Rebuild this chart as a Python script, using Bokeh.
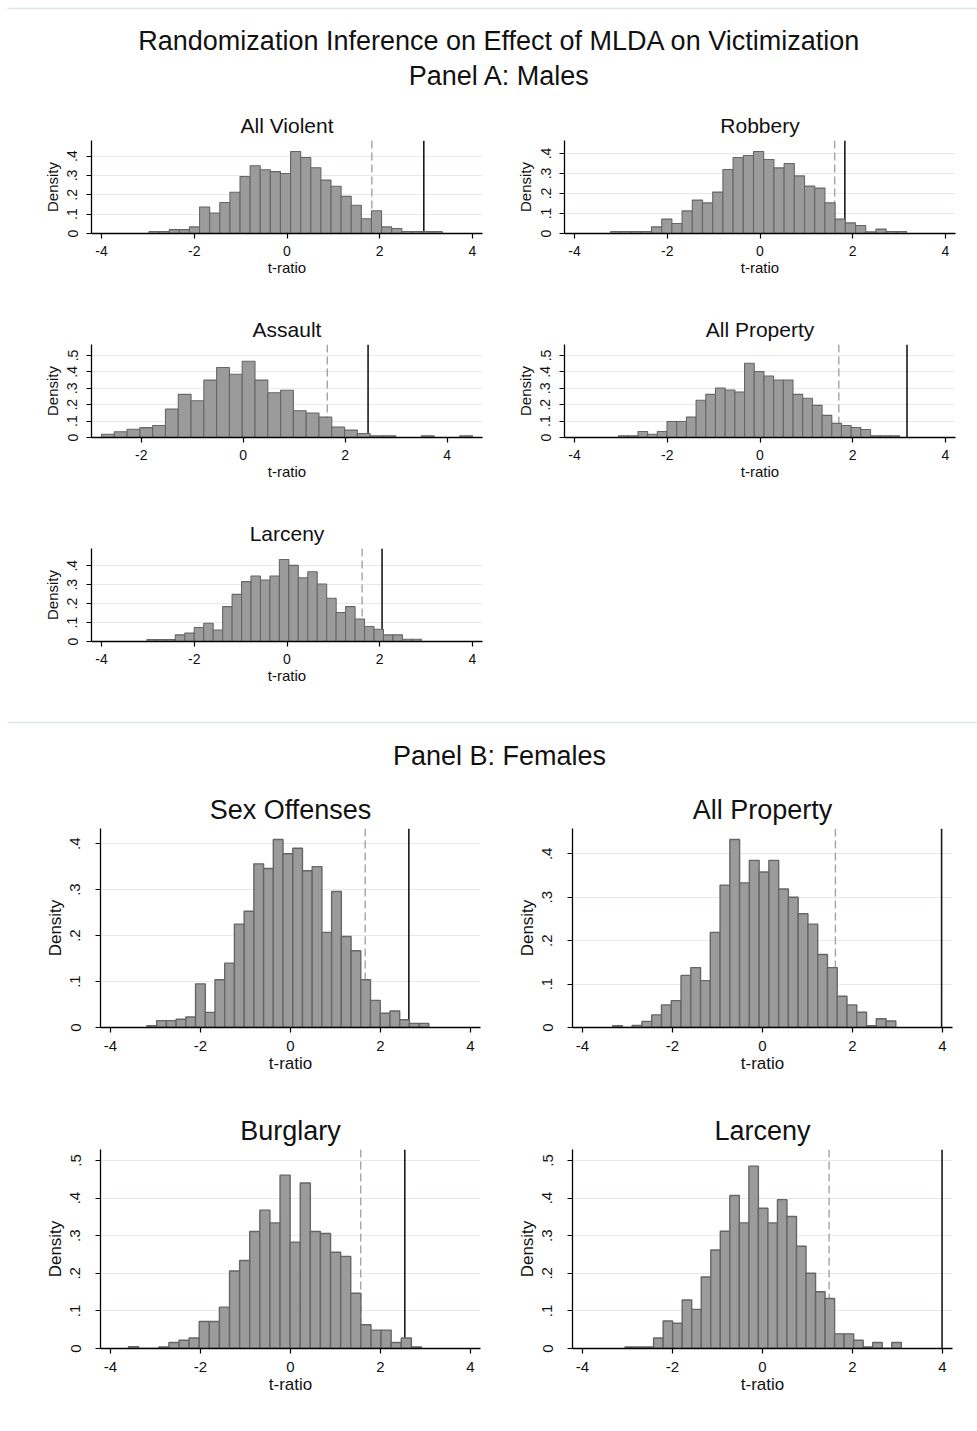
from bokeh.plotting import figure
from bokeh.layouts import column, row
from bokeh.models import FixedTicker, CustomJSTickFormatter, Span, Range1d, Spacer
from bokeh.core.properties import value
from bokeh.embed import file_html
from bokeh.resources import INLINE

FONT = "Liberation Sans"
INK = "#111111"

# ---------------------------------------------------------------------------
# Randomization distributions of the t-ratio: first bin edge, bin width and
# density of each bin, plus the 95th-percentile cutoff and the actual t-ratio.
# ---------------------------------------------------------------------------

# Panel A: males
violent_m_bin0, violent_m_binw = -2.975, 0.218
violent_m_density = [0.01, 0.01, 0.02, 0.02, 0.034, 0.137, 0.106, 0.16, 0.213, 0.295,
                     0.35, 0.33, 0.32, 0.31, 0.424, 0.393, 0.34, 0.276, 0.244, 0.192,
                     0.146, 0.076, 0.118, 0.034, 0.026, 0.01, 0.01, 0.01, 0.01]
violent_m_cutoff, violent_m_t = 1.83, 2.95

robbery_m_bin0, robbery_m_binw = -3.22, 0.22
robbery_m_density = [0.01, 0.01, 0.01, 0.01, 0.033, 0.072, 0.05, 0.113, 0.167, 0.153,
                     0.207, 0.32, 0.38, 0.39, 0.41, 0.37, 0.328, 0.35, 0.288, 0.237,
                     0.227, 0.153, 0.072, 0.053, 0.04, 0.008, 0.022, 0.01, 0.01]
robbery_m_cutoff, robbery_m_t = 1.61, 1.83

assault_m_bin0, assault_m_binw = -2.78, 0.251
assault_m_density = [0.02, 0.035, 0.05, 0.06, 0.073, 0.173, 0.263, 0.224, 0.35, 0.427,
                     0.386, 0.465, 0.35, 0.273, 0.288, 0.163, 0.149, 0.124, 0.063, 0.045,
                     0.024, 0.01, 0.01, 0.0, 0.0, 0.01, 0.0, 0.0, 0.01]
assault_m_cutoff, assault_m_t = 1.65, 2.45

property_m_bin0, property_m_binw = -3.05, 0.209
property_m_density = [0.01, 0.01, 0.037, 0.02, 0.037, 0.098, 0.098, 0.124, 0.227, 0.263,
                      0.302, 0.29, 0.277, 0.453, 0.402, 0.375, 0.351, 0.351, 0.263, 0.239,
                      0.196, 0.135, 0.086, 0.073, 0.061, 0.049, 0.01, 0.01, 0.01]
property_m_cutoff, property_m_t = 1.70, 3.17

larceny_m_bin0, larceny_m_binw = -3.02, 0.204
larceny_m_density = [0.01, 0.01, 0.01, 0.035, 0.044, 0.074, 0.096, 0.061, 0.184, 0.249,
                     0.316, 0.346, 0.325, 0.346, 0.433, 0.402, 0.337, 0.368, 0.304, 0.228,
                     0.153, 0.184, 0.119, 0.079, 0.065, 0.035, 0.035, 0.012, 0.012]
larceny_m_cutoff, larceny_m_t = 1.62, 2.05

# Panel B: females
sex_f_bin0, sex_f_binw = -3.19, 0.216
sex_f_density = [0.004, 0.015, 0.015, 0.018, 0.023, 0.095, 0.033, 0.104, 0.14, 0.225,
                 0.253, 0.356, 0.346, 0.409, 0.378, 0.39, 0.341, 0.35, 0.207, 0.296,
                 0.198, 0.167, 0.104, 0.059, 0.031, 0.036, 0.017, 0.009, 0.009]
sex_f_cutoff, sex_f_t = 1.66, 2.63

property_f_bin0, property_f_binw = -3.33, 0.217
property_f_density = [0.004, 0.0, 0.005, 0.014, 0.029, 0.052, 0.062, 0.12, 0.138, 0.108,
                      0.219, 0.328, 0.433, 0.333, 0.385, 0.358, 0.385, 0.319, 0.3, 0.262,
                      0.238, 0.168, 0.138, 0.072, 0.052, 0.035, 0.004, 0.02, 0.015]
property_f_cutoff, property_f_t = 1.62, 3.98

burglary_f_bin0, burglary_f_binw = -3.6, 0.2245
burglary_f_density = [0.005, 0.0, 0.0, 0.004, 0.016, 0.022, 0.028, 0.072, 0.072, 0.11,
                      0.206, 0.234, 0.311, 0.368, 0.334, 0.461, 0.283, 0.44, 0.311, 0.306,
                      0.256, 0.245, 0.147, 0.063, 0.049, 0.049, 0.016, 0.028, 0.004]
burglary_f_cutoff, burglary_f_t = 1.56, 2.54

larceny_f_bin0, larceny_f_binw = -3.055, 0.2117
larceny_f_density = [0.004, 0.004, 0.004, 0.028, 0.073, 0.067, 0.129, 0.104, 0.19, 0.262,
                     0.312, 0.407, 0.334, 0.485, 0.373, 0.334, 0.396, 0.351, 0.272, 0.2,
                     0.151, 0.133, 0.039, 0.039, 0.022, 0.004, 0.016, 0.0, 0.016]
larceny_f_cutoff, larceny_f_t = 1.48, 3.99

# axis labels
x_ticks_full = [-4, -2, 0, 2, 4]
x_ticks_assault = [-2, 0, 2, 4]

# ---------------------------------------------------------------------------
# styling / geometry
# ---------------------------------------------------------------------------
STYLE_A = dict(title=21, tick=14, label=15, tick_standoff=7, ytick_standoff=9,
               xlabel_standoff=0, ylabel_standoff=4, title_standoff=8, bar_lw=1.1)
STYLE_B = dict(title=27, tick=15, label=17, tick_standoff=8, ytick_standoff=15,
               xlabel_standoff=0, ylabel_standoff=3, title_standoff=8, bar_lw=1.4)

# (figure width, border left, border right, figure height, border top, border bottom)
GEO_A_LEFT = (488, 91, 6, 204, 40, 71)
GEO_A_RIGHT = (489, 76, 22, 204, 40, 71)
GEO_B_LEFT = (488, 100, 8, 321, 48, 74)
GEO_B_RIGHT = (489, 84, 25, 321, 48, 74)

y_fmt_code = "return tick === 0 ? '0' : tick.toFixed(1).replace(/^0/, '');"
x_fmt_code = "return String(Math.round(tick));"


def hist_panel(title, bin0, binw, dens, cutoff, tstat, xticks, ytop, geo, sty):
    W, bl, br, H, bt, bb = geo
    fw, fh = W - bl - br, H - bt - bb
    left = [bin0 + binw * i for i in range(len(dens))]
    right = [e + binw for e in left]
    lo = min(xticks[0], left[0], cutoff, tstat)
    hi = max(xticks[-1], right[-1], cutoff, tstat)
    pad = 10.0 * (hi - lo) / (fw - 20)
    m = max(max(dens), ytop)
    ymax = m * fh / (fh - 11)

    p = figure(width=W, height=H, x_range=Range1d(lo - pad, hi + pad),
               y_range=Range1d(0, ymax), toolbar_location=None, output_backend="svg",
               min_border_left=bl, min_border_right=br, min_border_top=bt,
               min_border_bottom=bb, title=title)
    p.outline_line_color = None
    p.background_fill_color = "white"
    p.border_fill_color = "white"

    p.title.align = "center"
    p.title.text_font = FONT
    p.title.text_font_style = "normal"
    p.title.text_font_size = f"{sty['title']}px"
    p.title.text_color = INK
    p.title.standoff = sty["title_standoff"]

    yticks = [i / 10 for i in range(int(round(ytop * 10)) + 1)]

    for ax in (p.xaxis[0], p.yaxis[0]):
        ax.axis_line_color = "#000000"
        ax.axis_line_width = 1.3
        ax.major_tick_line_color = "#000000"
        ax.major_tick_line_width = 1.2
        ax.major_tick_out = 5
        ax.major_tick_in = 0
        ax.minor_tick_out = 0
        ax.minor_tick_in = 0
        ax.major_label_text_font = FONT
        ax.major_label_text_font_size = f"{sty['tick']}px"
        ax.major_label_text_color = INK
        ax.axis_label_text_font = FONT
        ax.axis_label_text_font_style = "normal"
        ax.axis_label_text_font_size = f"{sty['label']}px"
        ax.axis_label_text_color = INK

    p.xaxis.ticker = FixedTicker(ticks=xticks)
    p.xaxis.formatter = CustomJSTickFormatter(code=x_fmt_code)
    p.xaxis.axis_label = "t-ratio"
    p.xaxis.major_label_standoff = sty["tick_standoff"]
    p.xaxis.axis_label_standoff = sty["xlabel_standoff"]

    p.yaxis.ticker = FixedTicker(ticks=yticks)
    p.yaxis.formatter = CustomJSTickFormatter(code=y_fmt_code)
    p.yaxis.major_label_orientation = "vertical"
    p.yaxis.axis_label = "Density"
    p.yaxis.major_label_standoff = sty["ytick_standoff"]
    p.yaxis.axis_label_standoff = sty["ylabel_standoff"]

    p.xgrid.visible = False
    p.ygrid.grid_line_color = "#E2EBEE"
    p.ygrid.grid_line_width = 1

    p.add_layout(Span(location=cutoff, dimension="height", line_color="#a3a3a3",
                      line_dash="8 4", line_width=1.4, level="underlay"))
    p.add_layout(Span(location=tstat, dimension="height", line_color="#1a1a1a",
                      line_width=1.6, level="underlay"))

    p.quad(left=left, right=right, bottom=0, top=dens, fill_color="#9b9b9b",
           line_color="#666666", line_width=sty["bar_lw"])
    return p


def banner(height, rules, texts):
    p = figure(width=977, height=height, x_range=Range1d(0, 977),
               y_range=Range1d(height, 0), toolbar_location=None,
               output_backend="svg", min_border=0, x_axis_type=None, y_axis_type=None)
    p.grid.visible = False
    p.outline_line_color = None
    for y in rules:
        p.segment(x0=[7], y0=[y], x1=[977], y1=[y], line_color="#dde7ea", line_width=1.3)
    for t, y in texts:
        p.text(x=[499], y=[y], text=[t], text_align="center", text_baseline="middle",
               text_font=value(FONT), text_font_size="27px", text_color=INK)
    return p


header = banner(100, [8], [("Randomization Inference on Effect of MLDA on Victimization", 40),
                           ("Panel A: Males", 75)])

a1 = hist_panel("All Violent", violent_m_bin0, violent_m_binw, violent_m_density,
                violent_m_cutoff, violent_m_t, x_ticks_full, 0.4, GEO_A_LEFT, STYLE_A)
a2 = hist_panel("Robbery", robbery_m_bin0, robbery_m_binw, robbery_m_density,
                robbery_m_cutoff, robbery_m_t, x_ticks_full, 0.4, GEO_A_RIGHT, STYLE_A)
a3 = hist_panel("Assault", assault_m_bin0, assault_m_binw, assault_m_density,
                assault_m_cutoff, assault_m_t, x_ticks_assault, 0.5, GEO_A_LEFT, STYLE_A)
a4 = hist_panel("All Property", property_m_bin0, property_m_binw, property_m_density,
                property_m_cutoff, property_m_t, x_ticks_full, 0.5, GEO_A_RIGHT, STYLE_A)
a5 = hist_panel("Larceny", larceny_m_bin0, larceny_m_binw, larceny_m_density,
                larceny_m_cutoff, larceny_m_t, x_ticks_full, 0.4, GEO_A_LEFT, STYLE_A)

divider = banner(68, [10], [("Panel B: Females", 43)])

b1 = hist_panel("Sex Offenses", sex_f_bin0, sex_f_binw, sex_f_density,
                sex_f_cutoff, sex_f_t, x_ticks_full, 0.4, GEO_B_LEFT, STYLE_B)
b2 = hist_panel("All Property", property_f_bin0, property_f_binw, property_f_density,
                property_f_cutoff, property_f_t, x_ticks_full, 0.4, GEO_B_RIGHT, STYLE_B)
b3 = hist_panel("Burglary", burglary_f_bin0, burglary_f_binw, burglary_f_density,
                burglary_f_cutoff, burglary_f_t, x_ticks_full, 0.5, GEO_B_LEFT, STYLE_B)
b4 = hist_panel("Larceny", larceny_f_bin0, larceny_f_binw, larceny_f_density,
                larceny_f_cutoff, larceny_f_t, x_ticks_full, 0.5, GEO_B_RIGHT, STYLE_B)

layout = column(
    header,
    row(a1, a2, spacing=0),
    row(a3, a4, spacing=0),
    row(a5, Spacer(width=489, height=204), spacing=0),
    divider,
    row(b1, b2, spacing=0),
    row(b3, b4, spacing=0),
    spacing=0,
)

open("out.html", "w").write(file_html(layout, INLINE))
